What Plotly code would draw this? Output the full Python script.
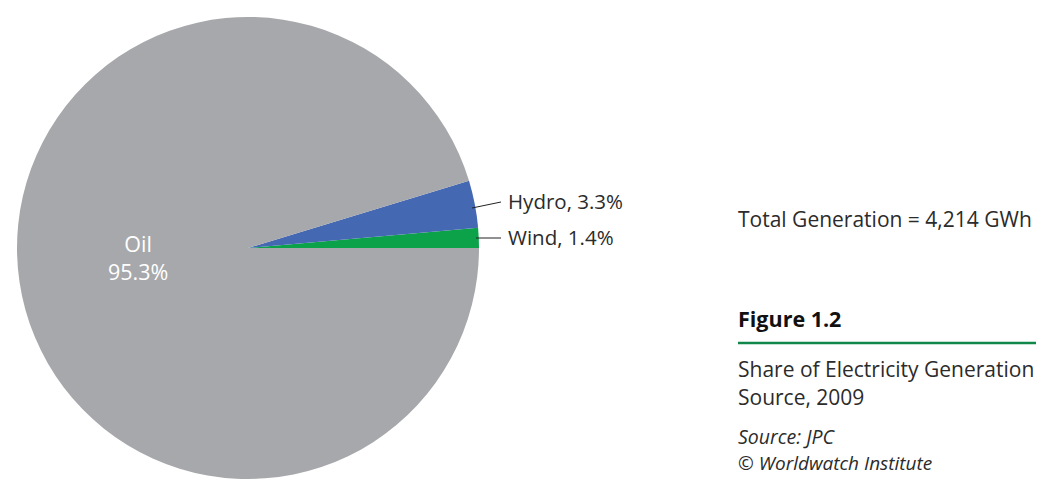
import plotly.graph_objects as go

# share of electricity generation, 2009 (percent)
sources = ["Wind", "Hydro", "Oil"]
shares = [1.4, 3.3, 95.3]
colors = ["#0BA24A", "#4468B2", "#A7A8AB"]

total_text = "Total Generation = 4,214 GWh"
fig_label = "Figure 1.2"
caption = ["Share of Electricity Generation", "Source, 2009"]
source_note = "Source: JPC"
copyright_note = "© Worldwatch Institute"

# page body has an 8px margin, so the figure is shrunk and shifted by that
OFF = 8
W, H = 1044 - OFF, 479 - OFF
FONT = "Open Sans"
TXT = "#2B2B2B"


def px(x):
    return (x - OFF) / W


def py(y):
    return 1 - (y - OFF) / H


# first slice (wind) should start at 3 o'clock and run counterclockwise
rot = 90 - 360 * shares[0] / sum(shares)

fig = go.Figure()
fig.add_trace(go.Pie(
    labels=sources, values=shares, sort=False,
    direction="counterclockwise", rotation=rot,
    marker=dict(colors=colors, line=dict(width=0)),
    textinfo="none", hoverinfo="label+percent",
    domain=dict(x=[px(17), px(479)], y=[0, py(17)]),
    showlegend=False,
))

annos = []
# inside label for the big slice
annos.append(dict(x=px(138), y=py(257), text=f"{sources[2]}<br>{shares[2]}%",
                  font=dict(color="white", size=21.5, family=FONT)))
# outside labels with leader lines
annos.append(dict(x=px(506), y=py(201), xanchor="left",
                  text=f"{sources[1]}, {shares[1]}%", font=dict(color=TXT, size=20.5, family=FONT)))
annos.append(dict(x=px(506), y=py(237), xanchor="left",
                  text=f"{sources[0]}, {shares[0]}%", font=dict(color=TXT, size=20.5, family=FONT)))

# right-hand caption block
annos.append(dict(x=px(736), y=py(219), xanchor="left", text=total_text,
                  font=dict(color=TXT, size=21, family=FONT)))
annos.append(dict(x=px(736), y=py(318), xanchor="left", text=f"<b>{fig_label}</b>",
                  font=dict(color="#111111", size=21.5, family=FONT)))
annos.append(dict(x=px(736), y=py(369), xanchor="left", text=caption[0],
                  font=dict(color=TXT, size=21, family=FONT)))
annos.append(dict(x=px(736), y=py(397), xanchor="left", text=caption[1],
                  font=dict(color=TXT, size=21, family=FONT)))
annos.append(dict(x=px(736), y=py(436), xanchor="left", text=f"<i>{source_note}</i>",
                  font=dict(color=TXT, size=19.5, family=FONT)))
annos.append(dict(x=px(736), y=py(478), xanchor="left", yanchor="bottom",
                  text=f"<i>{copyright_note}</i>",
                  font=dict(color=TXT, size=19, family=FONT)))

for a in annos:
    a.update(xref="paper", yref="paper", showarrow=False)
    a.setdefault("xanchor", "center")
    a.setdefault("yanchor", "middle")

shapes = [
    dict(type="line", xref="paper", yref="paper", x0=px(472), y0=py(208), x1=px(501), y1=py(202),
         line=dict(color="#222222", width=1)),
    dict(type="line", xref="paper", yref="paper", x0=px(476), y0=py(238), x1=px(501), y1=py(238),
         line=dict(color="#222222", width=1)),
    dict(type="line", xref="paper", yref="paper", x0=px(738), y0=py(343), x1=px(1044), y1=py(343),
         line=dict(color="#11884A", width=2.5)),
]

fig.update_layout(
    width=W, height=H,
    margin=dict(l=0, r=0, t=0, b=0),
    paper_bgcolor="white", plot_bgcolor="white",
    annotations=annos, shapes=shapes,
)

fig.write_html("out.html")
